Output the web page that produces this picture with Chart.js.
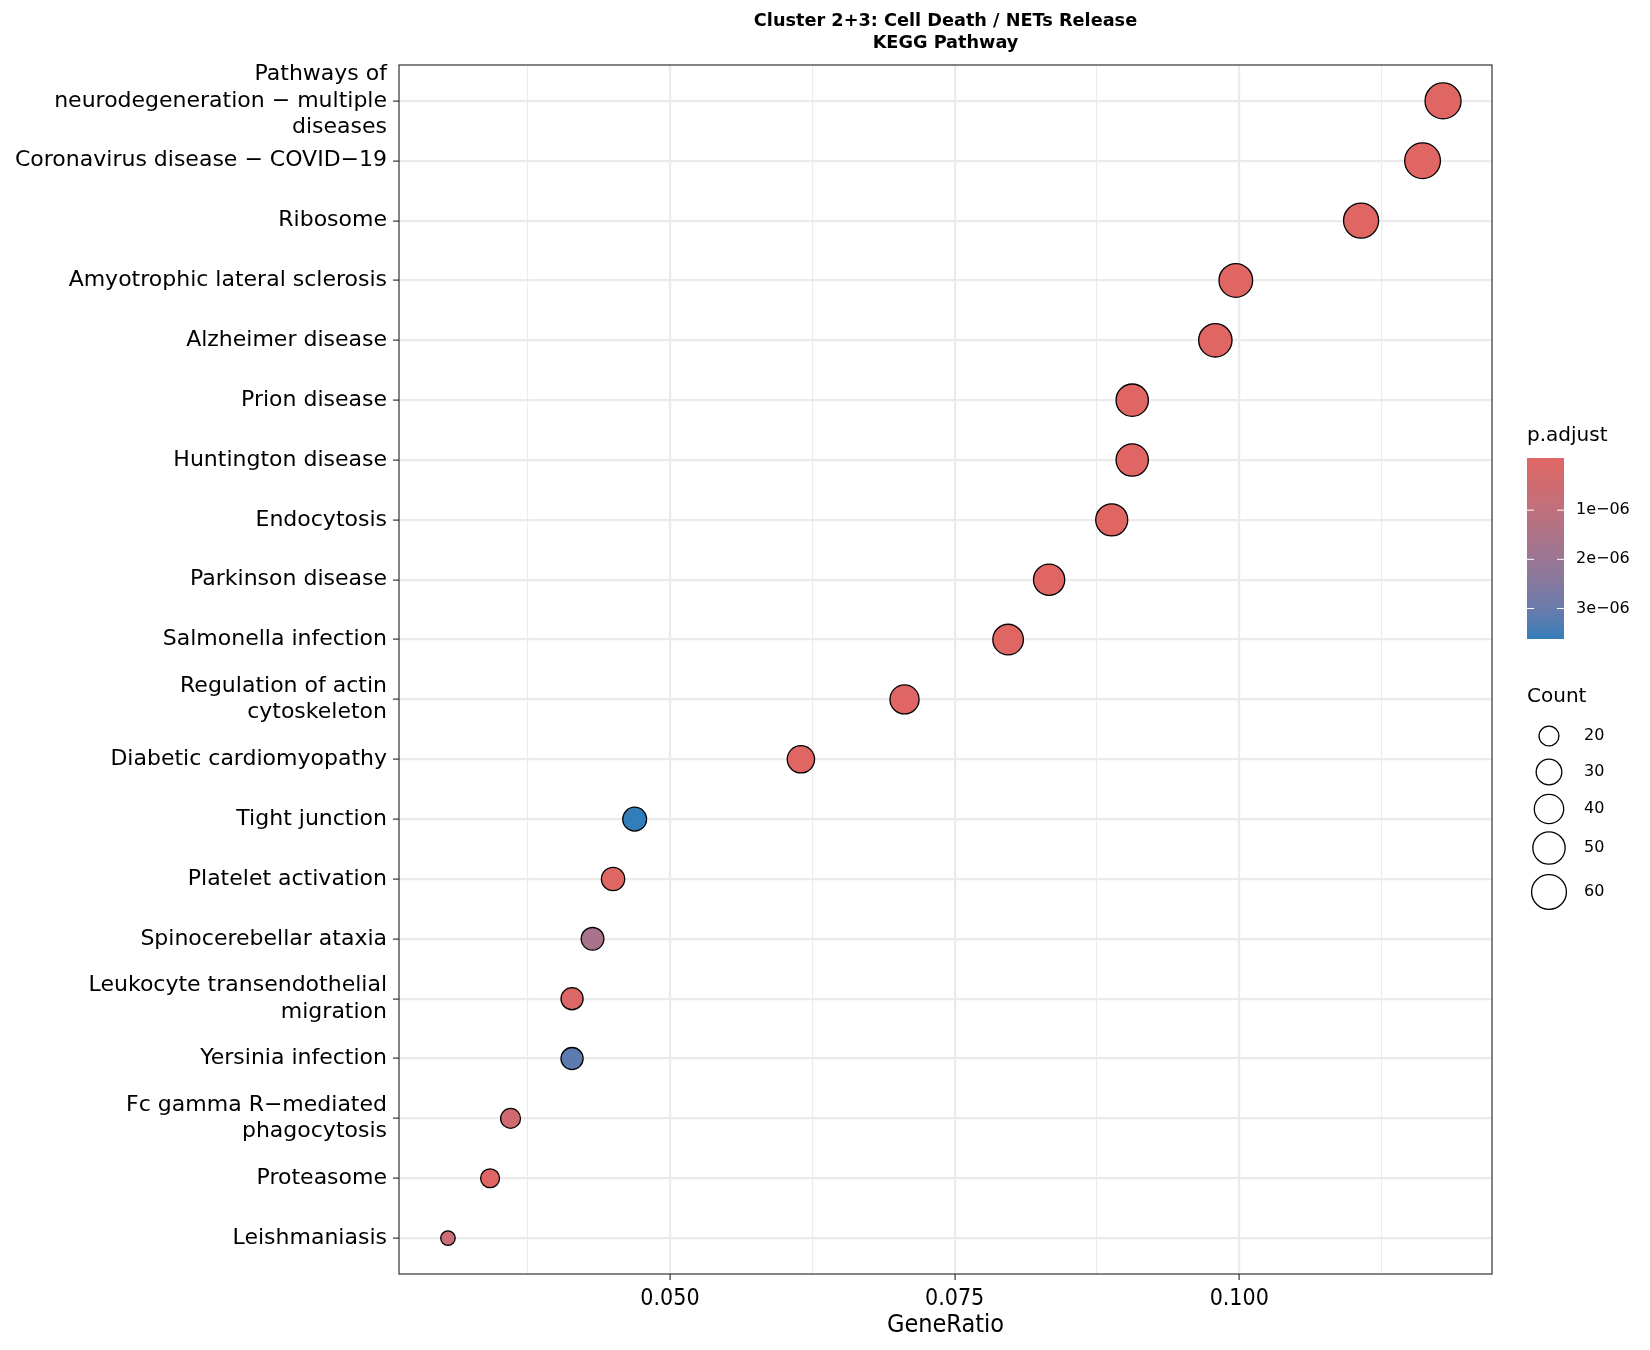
<!DOCTYPE html>
<html>
<head>
<meta charset="utf-8">
<title>Cluster 2+3: Cell Death / NETs Release - KEGG Pathway</title>
<script src="https://cdn.jsdelivr.net/npm/chart.js@4.4.1/dist/chart.umd.min.js"></script>
<style>
  html, body { margin: 0; padding: 0; background: #fff; }
  #wrap { width: 1650px; height: 1350px; }
</style>
</head>
<body>
<div id="wrap"><canvas id="dotplot" width="1650" height="1350"></canvas></div>
<script>
// pathways, top to bottom
const pathways = [
    ["Pathways of", "neurodegeneration \u2212 multiple", "diseases"],
    "Coronavirus disease \u2212 COVID\u221219",
    "Ribosome",
    "Amyotrophic lateral sclerosis",
    "Alzheimer disease",
    "Prion disease",
    "Huntington disease",
    "Endocytosis",
    "Parkinson disease",
    "Salmonella infection",
    ["Regulation of actin", "cytoskeleton"],
    "Diabetic cardiomyopathy",
    "Tight junction",
    "Platelet activation",
    "Spinocerebellar ataxia",
    ["Leukocyte transendothelial", "migration"],
    "Yersinia infection",
    ["Fc gamma R\u2212mediated", "phagocytosis"],
    "Proteasome",
    "Leishmaniasis"
]
const geneRatio = [0.1179, 0.1161, 0.1107, 0.0997, 0.0979, 0.0906, 0.0906, 0.0888, 0.0833, 0.0797,
                   0.0706, 0.0615, 0.0469, 0.0450, 0.0432, 0.0414, 0.0414, 0.0360, 0.0342, 0.0305]
const counts = [65, 64, 61, 55, 54, 50, 50, 49, 46, 44, 39, 34, 26, 25, 24, 23, 23, 20, 19, 17]
const pAdjust = [3.1e-13, 4.6e-14, 2.2e-22, 5.8e-10, 7.4e-10, 1.5e-11, 2.0e-10, 3.3e-10, 4.1e-10, 6.2e-9,
                 2.4e-8, 1.1e-8, 3.62e-6, 6.0e-8, 1.65e-6, 1.2e-7, 3.2e-6, 5.5e-7, 4.5e-8, 7.2e-7]

const xTicks = [0.0375, 0.05, 0.0625, 0.075, 0.0875, 0.1, 0.1125]
const xMajor = [0.05, 0.075, 0.1]
const pTicks = [1e-6, 2e-6, 3e-6]
const pTickLabels = ["1e\u221206", "2e\u221206", "3e\u221206"]
const countBreaks = [20, 30, 40, 50, 60]

const lowColor = "#e06663"
const highColor = "#327eba"
const FONT = "'DejaVu Sans', sans-serif"
const NARROW = "'DejaVu Sans Condensed', 'DejaVu Sans', sans-serif"

// --- colour scale (Lab interpolation, like ggplot) ---
function hexToRgb(h){ return [1, 3, 5].map(i => parseInt(h.slice(i, i + 2), 16)) }
function toLinear(c){ c /= 255; return c <= 0.04045 ? c / 12.92 : Math.pow((c + 0.055) / 1.055, 2.4) }
function fromLinear(c){
    const v = c <= 0.0031308 ? 12.92 * c : 1.055 * Math.pow(c, 1 / 2.4) - 0.055
    return Math.round(Math.min(1, Math.max(0, v)) * 255)
}
function rgbToLab(rgb){
    const [r, g, b] = rgb.map(toLinear)
    const x = (0.4124 * r + 0.3576 * g + 0.1805 * b) / 0.95047
    const y = (0.2126 * r + 0.7152 * g + 0.0722 * b)
    const z = (0.0193 * r + 0.1192 * g + 0.9505 * b) / 1.08883
    const f = t => t > 0.008856 ? Math.cbrt(t) : 7.787 * t + 16 / 116
    return [116 * f(y) - 16, 500 * (f(x) - f(y)), 200 * (f(y) - f(z))]
}
function labToRgb([L, a, bb]){
    const fy = (L + 16) / 116, fx = fy + a / 500, fz = fy - bb / 200
    const inv = t => t * t * t > 0.008856 ? t * t * t : (t - 16 / 116) / 7.787
    const x = inv(fx) * 0.95047, y = inv(fy), z = inv(fz) * 1.08883
    const r = 3.2406 * x - 1.5372 * y - 0.4986 * z
    const g = -0.9689 * x + 1.8758 * y + 0.0415 * z
    const b = 0.0557 * x - 0.2040 * y + 1.0570 * z
    return [r, g, b].map(fromLinear)
}
const labLow = rgbToLab(hexToRgb(lowColor))
const labHigh = rgbToLab(hexToRgb(highColor))
const pMin = Math.min(...pAdjust)
const pMax = Math.max(...pAdjust)

function colorAt(t){
    const lab = labLow.map((v, i) => v + (labHigh[i] - v) * t)
    const [r, g, b] = labToRgb(lab)
    return `rgb(${r},${g},${b})`
}
function pColor(p){ return colorAt((p - pMin) / (pMax - pMin)) }

// --- size scale (area, like scale_size) ---
const cMin = Math.min(...counts)
const cMax = Math.max(...counts)
const dMin = 15.8, dMax = 37.3
const stroke = 1.3
function countRadius(c){
    const t = (c - cMin) / (cMax - cMin)
    return (dMin + Math.sqrt(Math.max(0, t)) * (dMax - dMin)) / 2 - stroke / 2
}

const points = pathways.map((_, i) => ({ x: geneRatio[i], y: i + 1, r: countRadius(counts[i]) }))
const near = (a, b) => Math.abs(a - b) < 1e-6
const isMajor = v => xMajor.some(m => near(m, v))

// legend + panel border
const extras = {
    id: 'extras',
    afterDraw(chart){
        const ctx = chart.ctx
        const area = chart.chartArea
        ctx.save()
        ctx.strokeStyle = '#333333'
        ctx.lineWidth = 1.2
        ctx.strokeRect(area.left, area.top, area.right - area.left, area.bottom - area.top)

        const lx = 1527
        ctx.fillStyle = '#000'
        ctx.textAlign = 'left'
        ctx.textBaseline = 'middle'
        ctx.font = `20px ${FONT}`
        ctx.fillText('p.adjust', lx, 436)

        // colour bar
        const barTop = 458, barBottom = 639, barW = 37
        const grad = ctx.createLinearGradient(0, barTop, 0, barBottom)
        for (let k = 0; k <= 20; k++) grad.addColorStop(k / 20, colorAt(k / 20))
        ctx.fillStyle = grad
        ctx.fillRect(lx, barTop, barW, barBottom - barTop)
        ctx.font = `16px ${FONT}`
        const tickTop = barTop + 3
        pTicks.forEach((p, i) => {
            const y = tickTop + (p - pMin) / (pMax - pMin) * (barBottom - tickTop)
            ctx.strokeStyle = '#fff'
            ctx.lineWidth = 1
            ctx.beginPath()
            ctx.moveTo(lx, y); ctx.lineTo(lx + 7, y)
            ctx.moveTo(lx + barW - 7, y); ctx.lineTo(lx + barW, y)
            ctx.stroke()
            ctx.fillStyle = '#000'
            ctx.fillText(pTickLabels[i], lx + barW + 12, y)
        })

        // size legend
        ctx.font = `20px ${FONT}`
        ctx.fillText('Count', lx, 697)
        const ys = [736, 772, 809, 848, 892]
        ctx.font = `16px ${FONT}`
        countBreaks.forEach((c, i) => {
            ctx.beginPath()
            ctx.arc(1549, ys[i], countRadius(c), 0, Math.PI * 2)
            ctx.strokeStyle = '#000'
            ctx.lineWidth = stroke
            ctx.stroke()
            ctx.fillStyle = '#000'
            ctx.fillText(String(c), 1584, ys[i])
        })
        ctx.restore()
    }
}

new Chart(document.getElementById('dotplot'), {
    type: 'bubble',
    data: {
        datasets: [{
            data: points,
            backgroundColor: pAdjust.map(pColor),
            borderColor: '#000',
            borderWidth: stroke,
            hoverBorderWidth: stroke
        }]
    },
    options: {
        responsive: false,
        animation: false,
        layout: { padding: { left: 0, right: 158, top: 0, bottom: 0 } },
        plugins: {
            legend: { display: false },
            tooltip: { enabled: false },
            title: {
                display: true,
                fullSize: false,
                text: ['Cluster 2+3: Cell Death / NETs Release', 'KEGG Pathway'],
                color: '#000',
                font: { family: FONT, size: 17.7, weight: 'bold', lineHeight: 1.25 },
                padding: { top: 10, bottom: 10.75 }
            }
        },
        scales: {
            x: {
                type: 'linear',
                min: 0.0262,
                max: 0.1222,
                afterBuildTicks: s => { s.ticks = xTicks.map(v => ({ value: v })) },
                afterFit: s => { s.height = 76 },
                ticks: {
                    autoSkip: false,
                    maxRotation: 0,
                    padding: 5,
                    color: '#000',
                    font: { family: NARROW, size: 23 },
                    callback: v => isMajor(v) ? v.toFixed(3) : ''
                },
                grid: {
                    color: '#ebebeb',
                    lineWidth: c => isMajor(c.tick.value) ? 2.2 : 1.1,
                    tickColor: c => isMajor(c.tick.value) ? '#333' : 'rgba(0,0,0,0)',
                    tickLength: 6,
                    tickWidth: 1.2
                },
                border: { display: false },
                title: {
                    display: true,
                    text: 'GeneRatio',
                    color: '#000',
                    font: { family: NARROW, size: 25, lineHeight: 1.2 },
                    padding: { top: 0, bottom: 10 }
                }
            },
            y: {
                type: 'linear',
                reverse: true,
                min: 0.4,
                max: 20.6,
                afterBuildTicks: s => { s.ticks = pathways.map((_, i) => ({ value: i + 1 })) },
                afterFit: s => { s.width = 399 },
                ticks: {
                    autoSkip: false,
                    padding: 6,
                    color: '#000',
                    font: { family: FONT, size: 22, lineHeight: 1.2 },
                    callback: v => pathways[Math.round(v) - 1]
                },
                grid: {
                    color: '#ebebeb',
                    lineWidth: 2.2,
                    tickColor: '#333',
                    tickLength: 6,
                    tickWidth: 1.2
                },
                border: { display: false }
            }
        }
    },
    plugins: [extras]
})
</script>
</body>
</html>
